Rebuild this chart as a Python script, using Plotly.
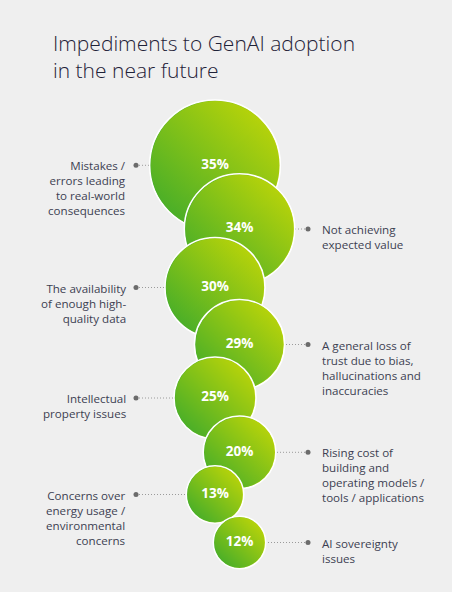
import plotly.graph_objects as go

# ---- data ----
categories = [
    "Mistakes /<br>errors leading<br>to real-world<br>consequences",
    "Not achieving<br>expected value",
    "The availability<br>of enough high-<br>quality data",
    "A general loss of<br>trust due to bias,<br>hallucinations and<br>inaccuracies",
    "Intellectual<br>property issues",
    "Rising cost of<br>building and<br>operating models /<br>tools / applications",
    "Concerns over<br>energy usage /<br>environmental<br>concerns",
    "AI sovereignty<br>issues",
]
values = [35, 34, 30, 29, 25, 20, 13, 12]
value_labels = [f"{v}%" for v in values]
title_text = "Impediments to GenAI adoption<br>in the near future"

# ---- layout / style (pixel-like axis units) ----
W, H = 452, 592
COL_X = [215, 239.5]                      # left / right bubble column
ROW_Y = [165.3, 229, 287.5, 344.5, 398, 452.3, 494.5, 542.5]
DIAM = [130.6, 110.4, 100, 90, 82, 72.6, 57.4, 52.4]
DOT_X = [136, 308]
TEXT_X = [127.5, 319.5]
BG = "#efefef"
DARK = (54, 168, 46)
LIGHT = (203, 218, 5)


def rgb(c):
    return "rgb(%d,%d,%d)" % c


fig = go.Figure()

# leader lines (drawn first, bubbles cover their inner ends)
lx, ly = [], []
for i in range(len(values)):
    side = i % 2
    lx += [DOT_X[side], COL_X[side], None]
    ly += [ROW_Y[i], ROW_Y[i], None]
fig.add_trace(go.Scatter(x=lx, y=ly, mode="lines",
                         line=dict(color="#9a9a9a", width=1, dash="1px,2px"),
                         hoverinfo="skip", showlegend=False))
fig.add_trace(go.Scatter(x=[DOT_X[i % 2] for i in range(len(values))], y=ROW_Y,
                         mode="markers", marker=dict(size=5, color="#6b6b6b"),
                         hoverinfo="skip", showlegend=False))

# bubbles: horizontal gradient + half-opacity vertical gradient = diagonal
for i, v in enumerate(values):
    x = COL_X[i % 2]
    y = ROW_Y[i]
    fig.add_trace(go.Scatter(
        x=[x], y=[y], mode="markers", hoverinfo="skip", showlegend=False,
        marker=dict(size=DIAM[i], color=rgb(DARK),
                    gradient=dict(type="horizontal", color=rgb(LIGHT)),
                    line=dict(color="white", width=1.6))))
    fig.add_trace(go.Scatter(
        x=[x], y=[y], mode="markers", hoverinfo="skip", showlegend=False,
        opacity=0.5,
        marker=dict(size=DIAM[i] - 2, color=rgb(LIGHT),
                    gradient=dict(type="vertical", color=rgb(DARK)),
                    line=dict(width=0))))

fig.add_trace(go.Scatter(
    x=[COL_X[i % 2] for i in range(len(values))], y=ROW_Y, mode="text",
    text=value_labels, textposition="middle center",
    textfont=dict(family="Open Sans", size=13.5, color="white", weight="bold"),
    hoverinfo="skip", showlegend=False))

for i, cat in enumerate(categories):
    side = i % 2
    fig.add_annotation(
        x=TEXT_X[side], y=ROW_Y[i] - 9, xref="x", yref="y",
        text=cat, showarrow=False,
        xanchor="right" if side == 0 else "left", yanchor="top",
        align="right" if side == 0 else "left",
        font=dict(family="Open Sans", size=11.6, color="#3d3f52"))

# title
fig.add_annotation(
    x=51 / W, y=1 - 27 / H, xref="paper", yref="paper",
    text=title_text, showarrow=False, xanchor="left", yanchor="top",
    align="left",
    font=dict(family="Open Sans", size=21, color="#1f2238", weight=300))

fig.update_layout(
    width=W, height=H,
    margin=dict(l=0, r=0, t=0, b=0),
    paper_bgcolor=BG, plot_bgcolor=BG,
    xaxis=dict(range=[0, W], visible=False, fixedrange=True),
    yaxis=dict(range=[H, 0], visible=False, fixedrange=True),
    showlegend=False,
)

fig.write_html("out.html", config={"displayModeBar": False})
